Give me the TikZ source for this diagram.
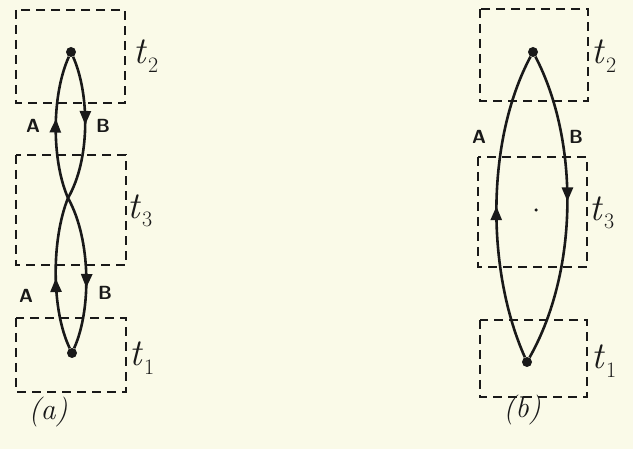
\documentclass[tikz,border=0pt]{standalone}
\usepackage{fontspec}
\usetikzlibrary{arrows.meta,decorations.markings}
\definecolor{paper}{RGB}{250,250,232}
\definecolor{ink}{RGB}{25,25,25}
\newcommand{\tsub}[1]{\textit{t}\kern1pt\raisebox{-0.22em}{\fontsize{22}{24}\selectfont #1}}
\begin{document}
\begin{tikzpicture}[x=1pt,y=-1pt,
  box/.style={draw=ink,line width=2.6pt,dash pattern=on 9pt off 6pt},
  dot/.style={circle,fill=ink,inner sep=0pt,minimum size=10pt},
  tinydot/.style={circle,fill=ink,inner sep=0pt,minimum size=3.5pt},
  curve/.style={draw=ink,line width=2.6pt},
  arrmid/.style={postaction={decorate},decoration={markings,
     mark=at position #1 with {\arrow{Triangle[length=14pt,width=11pt]}}}},
  tlab/.style={anchor=west,text=ink,font=\fontsize{38}{42}\selectfont,inner sep=0pt},
  ablab/.style={text=ink,font=\sffamily\bfseries\fontsize{19}{22}\selectfont,inner sep=0pt},
  caplab/.style={text=ink,font=\itshape\fontsize{30}{34}\selectfont,inner sep=0pt}]
\fill[paper] (0,0) rectangle (633,449);
\useasboundingbox (0,0) rectangle (633,449);
% ---------- (a) ----------
\draw[box] (16,10) rectangle (125,103);
\draw[box] (16,155) rectangle (126,265);
\draw[box] (16,318) rectangle (126,392);
\node[dot] (a2) at (71,52) {};
\node[inner sep=0pt,minimum size=0pt] (a3) at (68,198) {};
\node[dot] (a1) at (72,353) {};
\draw[curve,arrmid=0.56] (a3) .. controls (51.5,160) and (51.5,95) .. (a2);
\draw[curve,arrmid=0.48] (a2) .. controls (90,95) and (90,160) .. (a3);
\draw[curve,arrmid=0.47] (a1) .. controls (51.3,310) and (51.3,240) .. (a3);
\draw[curve,arrmid=0.6] (a3) .. controls (91.3,240) and (91.3,310) .. (a1);
\node[ablab] (A1) at (33,126) {A};
\node[ablab] (B1) at (103,126) {B};
\node[ablab] (A2) at (26,296) {A};
\node[ablab] (B2) at (105,293) {B};
\node[tlab] (ta2) at (133,56) {\tsub{2}};
\node[tlab] (ta3) at (127,211) {\tsub{3}};
\node[tlab] (ta1) at (129,358) {\tsub{1}};
\node[caplab] (capa) at (48,412) {(a)};
% ---------- (b) ----------
\draw[box] (480,9) rectangle (588,101);
\draw[box] (478,157) rectangle (587,267);
\draw[box] (480,320) rectangle (587,397);
\node[dot] (b2) at (533,52) {};
\node[dot] (b1) at (527,362) {};
\node[tinydot] (bc) at (536,210) {};
\draw[curve,arrmid=0.5] (b1) .. controls (486,270) and (486,140) .. (b2);
\draw[curve,arrmid=0.48] (b2) .. controls (579,140) and (579,270) .. (b1);
\node[ablab] (A3) at (479,137) {A};
\node[ablab] (B3) at (576,137) {B};
\node[tlab] (tb2) at (591,56) {\tsub{2}};
\node[tlab] (tb3) at (589,213) {\tsub{3}};
\node[tlab] (tb1) at (591,361) {\tsub{1}};
\node[caplab] (capb) at (522,410) {(b)};
\end{tikzpicture}
\end{document}
